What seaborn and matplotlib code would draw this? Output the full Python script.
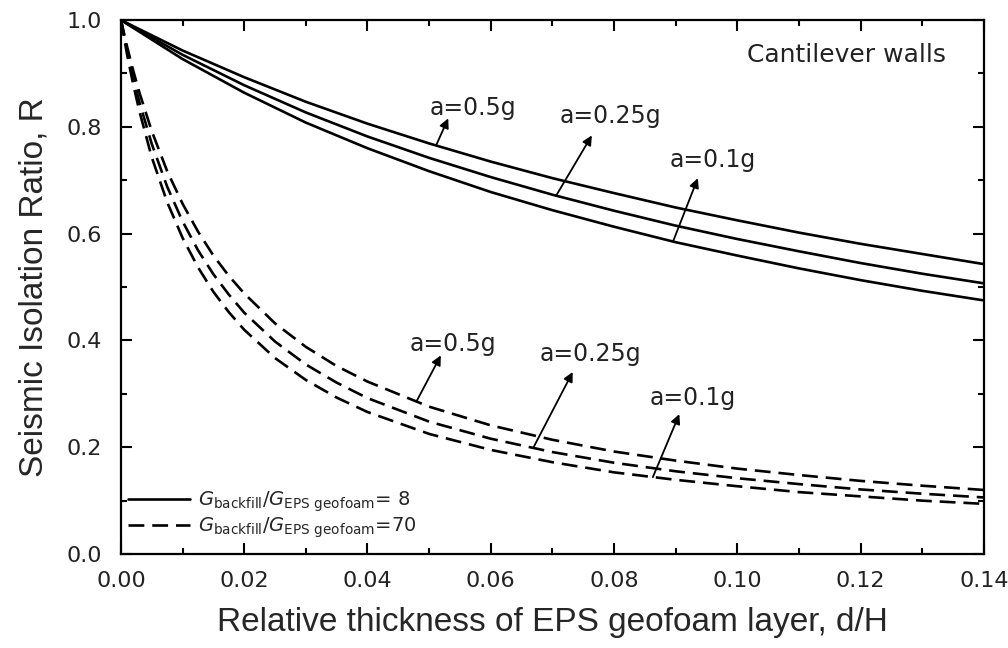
import numpy as np
import pandas as pd
import seaborn as sns
import matplotlib.pyplot as plt
from matplotlib.lines import Line2D

# values
d_solid = [0, 0.01, 0.02, 0.03, 0.04, 0.05, 0.06, 0.07, 0.08, 0.09, 0.10, 0.11, 0.12, 0.13, 0.14]
r_solid_05 = [1.0, 0.943, 0.893, 0.847, 0.806, 0.769, 0.735, 0.704, 0.676, 0.649, 0.625, 0.602, 0.581, 0.562, 0.543]
r_solid_025 = [1.0, 0.935, 0.878, 0.827, 0.782, 0.742, 0.706, 0.673, 0.643, 0.615, 0.590, 0.567, 0.545, 0.525, 0.507]
r_solid_01 = [1.0, 0.927, 0.864, 0.808, 0.760, 0.717, 0.678, 0.644, 0.613, 0.584, 0.559, 0.535, 0.513, 0.493, 0.475]

d_dash = [0, 0.001, 0.002, 0.003, 0.005, 0.0075, 0.01, 0.0125, 0.015, 0.0175, 0.02, 0.025,
          0.03, 0.035, 0.04, 0.05, 0.06, 0.07, 0.08, 0.09, 0.10, 0.11, 0.12, 0.13, 0.14]
r_dash_05 = [1.0, 0.950, 0.905, 0.864, 0.792, 0.717, 0.656, 0.604, 0.559, 0.521, 0.488, 0.432,
             0.388, 0.352, 0.323, 0.276, 0.241, 0.214, 0.192, 0.175, 0.160, 0.148, 0.137, 0.128, 0.120]
r_dash_025 = [1.0, 0.943, 0.892, 0.846, 0.768, 0.688, 0.623, 0.569, 0.524, 0.486, 0.452, 0.398,
              0.355, 0.321, 0.292, 0.248, 0.216, 0.191, 0.171, 0.155, 0.142, 0.131, 0.121, 0.113, 0.106]
r_dash_01 = [1.0, 0.935, 0.879, 0.829, 0.743, 0.659, 0.592, 0.537, 0.491, 0.453, 0.420, 0.367,
             0.326, 0.293, 0.266, 0.225, 0.195, 0.172, 0.153, 0.139, 0.127, 0.116, 0.108, 0.100, 0.094]

accel_labels = ["a=0.5g", "a=0.25g", "a=0.1g"]
legend_labels = [r"$G_{\rm backfill}/G_{\rm EPS\ geofoam}$= 8",
                 r"$G_{\rm backfill}/G_{\rm EPS\ geofoam}$=70"]

# annotation anchors: (text x, text y, arrow tip, arrow tail on curve)
solid_notes = [(0.0571, 0.822, (0.0531, 0.816), (0.0512, 0.767)),
               (0.0795, 0.807, (0.0764, 0.784), (0.0706, 0.671)),
               (0.0960, 0.724, (0.0936, 0.704), (0.0896, 0.586))]
dash_notes = [(0.0539, 0.381, (0.0519, 0.372), (0.0480, 0.287)),
              (0.0762, 0.362, (0.0733, 0.341), (0.0669, 0.199)),
              (0.0928, 0.280, (0.0906, 0.262), (0.0863, 0.144))]

sns.set_theme(style="ticks")
plt.rcParams['font.family'] = ['DejaVu Sans']

fig = plt.figure(figsize=(10.08, 6.48), dpi=100)
ax = fig.add_axes([0.120, 0.145, 0.856, 0.824])

lw = 1.9
dash = (0, (6, 3))
for r in [r_solid_05, r_solid_025, r_solid_01]:
    sns.lineplot(x=d_solid, y=r, ax=ax, color="black", lw=lw, estimator=None, sort=False)
for r in [r_dash_05, r_dash_025, r_dash_01]:
    sns.lineplot(x=d_dash, y=r, ax=ax, color="black", lw=lw, linestyle=dash, estimator=None, sort=False)

for notes in [solid_notes, dash_notes]:
    for lab, (tx, ty, tip, tail) in zip(accel_labels, notes):
        ax.text(tx, ty, lab, ha="center", va="baseline", fontsize=17, color="#222222")
        ax.annotate("", xy=tip, xytext=tail,
                    arrowprops=dict(arrowstyle="-|>", color="black", lw=1.3,
                                    mutation_scale=14, shrinkA=0, shrinkB=0))

ax.text(0.1338, 0.934, "Cantilever walls", ha="right", va="center", fontsize=18, color="#222222")

ax.set_xlim(0, 0.14)
ax.set_ylim(0, 1.0)
ax.set_xticks(np.arange(0, 0.141, 0.02))
ax.set_xticks(np.arange(0, 0.141, 0.01), minor=True)
ax.set_yticks(np.arange(0, 1.01, 0.2))
ax.set_yticks(np.arange(0, 1.01, 0.1), minor=True)
ax.set_xticklabels([f"{v:.2f}" for v in np.arange(0, 0.141, 0.02)])
ax.set_yticklabels([f"{v:.1f}" for v in np.arange(0, 1.01, 0.2)])
ax.tick_params(which="both", direction="in", top=True, right=True, width=1.5,
               labelsize=16, colors="black")
ax.tick_params(axis="x", which="major", length=8, pad=12)
ax.tick_params(axis="y", which="major", length=8, pad=14)
ax.tick_params(which="minor", length=4)
for lab in ax.get_xticklabels() + ax.get_yticklabels():
    lab.set_color("#222222")
for sp in ax.spines.values():
    sp.set_linewidth(1.6)
    sp.set_color("black")

ax.set_xlabel("Relative thickness of EPS geofoam layer, d/H", fontsize=24,
              family="Liberation Sans", labelpad=12)
ax.set_ylabel("Seismic Isolation Ratio, R", fontsize=24,
              family="Liberation Sans", labelpad=12)

handles = [Line2D([], [], color="black", lw=lw),
           Line2D([], [], color="black", lw=lw, linestyle=dash)]
ax.legend(handles, legend_labels, loc="lower left", frameon=False, fontsize=14,
          handlelength=3.2, handletextpad=0.4, labelspacing=0.1,
          borderaxespad=0.3, bbox_to_anchor=(-0.008, 0.0))

fig.savefig("out.png", dpi=100)
